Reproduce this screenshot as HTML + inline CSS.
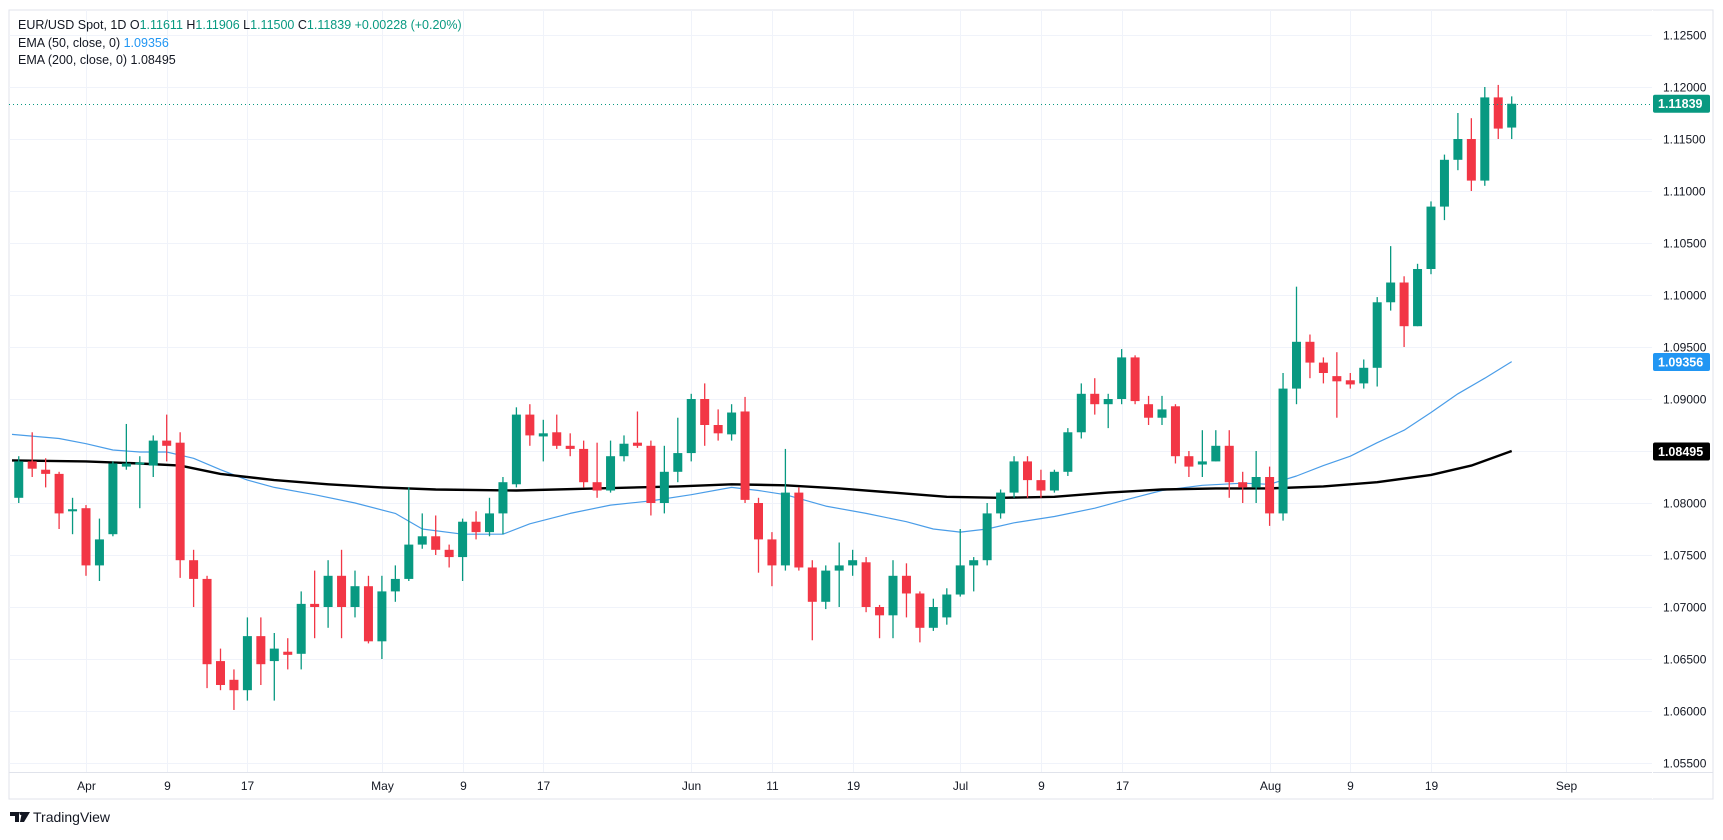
<!DOCTYPE html>
<html><head><meta charset="utf-8"><style>
html,body{margin:0;padding:0;background:#fff;}
body{width:1723px;height:835px;overflow:hidden;font-family:"Liberation Sans",sans-serif;}
</style></head><body>
<svg id="s" width="1723" height="835" xmlns="http://www.w3.org/2000/svg" font-family="Liberation Sans, sans-serif"></svg>
<script>
const S=document.getElementById('s');
const NS='http://www.w3.org/2000/svg';
function el(t,a,txt){const e=document.createElementNS(NS,t);for(const k in a)e.setAttribute(k,a[k]);if(txt!==undefined)e.textContent=txt;S.appendChild(e);return e;}
const Y=p=>35+(1.125-p)*10400;
const X=i=>86+13.45*i;
// frame
el('rect',{x:9,y:10,width:1704,height:789,fill:'#fff',stroke:'#e0e3eb','stroke-width':1});
// horizontal grid
for(let k=0;k<=14;k++){const p=1.125-k*0.005;const y=Math.round(Y(p))+0.5;
 el('line',{x1:9,x2:1652,y1:y,y2:y,stroke:'#f0f3fa','stroke-width':1});
 el('text',{x:1663,y:y+4,'font-size':12,fill:'#131722'},p.toFixed(5));}
// vertical grid + date labels
const dl=[[0,'Apr'],[6,'9'],[12,'17'],[22,'May'],[28,'9'],[34,'17'],[45,'Jun'],[51,'11'],[57,'19'],[65,'Jul'],[71,'9'],[77,'17'],[88,'Aug'],[94,'9'],[100,'19'],[110,'Sep']];
dl.forEach(([i,t])=>{const x=Math.round(X(i))+0.5;
 el('line',{x1:x,x2:x,y1:10,y2:772,stroke:'#f0f3fa','stroke-width':1});
 el('text',{x:x,y:790,'font-size':12,fill:'#131722','text-anchor':'middle'},t);});
el('line',{x1:9,x2:1713,y1:772.5,y2:772.5,stroke:'#e0e3eb'});
el('line',{x1:1652.5,x2:1652.5,y1:10,y2:799,stroke:'#fff'});
const D=[
[1.0805,1.0845,1.0800,1.0840],[1.0840,1.0868,1.0825,1.0833],[1.0832,1.0843,1.0815,1.0828],[1.0828,1.0830,1.0775,1.0790],[1.0792,1.0805,1.0770,1.0794],
[1.0795,1.0798,1.0730,1.0740],[1.0740,1.0785,1.0725,1.0765],[1.0770,1.0840,1.0768,1.0838],[1.0835,1.0876,1.0832,1.0838],[1.0837,1.0845,1.0795,1.0839],
[1.0836,1.0865,1.0825,1.0860],[1.0860,1.0885,1.0840,1.0855],[1.0858,1.0868,1.0728,1.0745],[1.0745,1.0755,1.0700,1.0727],[1.0727,1.0730,1.0622,1.0645],
[1.0648,1.0660,1.0620,1.0625],[1.0630,1.0640,1.0601,1.0620],[1.0620,1.0690,1.0610,1.0672],[1.0672,1.0690,1.0625,1.0645],[1.0648,1.0675,1.0610,1.0660],
[1.0657,1.0670,1.0640,1.0654],[1.0655,1.0715,1.0640,1.0703],[1.0703,1.0735,1.0670,1.0700],[1.0700,1.0745,1.0680,1.0730],[1.0730,1.0755,1.0670,1.0700],
[1.0700,1.0735,1.0690,1.0720],[1.0720,1.0730,1.0665,1.0667],[1.0667,1.0730,1.0650,1.0715],[1.0715,1.0740,1.0705,1.0727],[1.0727,1.0815,1.0725,1.0760],
[1.0760,1.0790,1.0756,1.0768],[1.0768,1.0788,1.0750,1.0755],[1.0755,1.0760,1.0738,1.0748],[1.0748,1.0785,1.0725,1.0782],[1.0782,1.0792,1.0765,1.0772],
[1.0772,1.0805,1.0768,1.0790],[1.0790,1.0825,1.0770,1.0820],[1.0818,1.0892,1.0815,1.0885],[1.0885,1.0895,1.0855,1.0865],[1.0864,1.0880,1.0840,1.0867],
[1.0868,1.0885,1.0852,1.0855],[1.0855,1.0867,1.0845,1.0852],[1.0852,1.0860,1.0815,1.0820],[1.0820,1.0858,1.0805,1.0812],[1.0812,1.0860,1.0810,1.0845],
[1.0845,1.0865,1.0840,1.0857],[1.0858,1.0888,1.0853,1.0855],[1.0855,1.0860,1.0788,1.0800],[1.0800,1.0855,1.0790,1.0830],[1.0830,1.0882,1.0820,1.0848],
[1.0848,1.0905,1.0840,1.0900],[1.0900,1.0915,1.0855,1.0875],[1.0875,1.0890,1.0860,1.0867],[1.0866,1.0895,1.0860,1.0887],[1.0888,1.0902,1.0800,1.0803],
[1.0800,1.0805,1.0733,1.0765],[1.0765,1.0772,1.0720,1.0740],[1.0740,1.0852,1.0735,1.0810],[1.0810,1.0815,1.0735,1.0738],[1.0738,1.0745,1.0668,1.0705],
[1.0705,1.0740,1.0698,1.0735],[1.0735,1.0762,1.0700,1.0740],[1.0740,1.0755,1.0730,1.0745],[1.0743,1.0748,1.0695,1.0700],[1.0700,1.0702,1.0670,1.0692],
[1.0692,1.0745,1.0670,1.0730],[1.0730,1.0742,1.0690,1.0713],[1.0713,1.0715,1.0666,1.0680],[1.0680,1.0708,1.0677,1.0700],[1.0690,1.0718,1.0683,1.0712],
[1.0712,1.0775,1.0710,1.0740],[1.0740,1.0748,1.0715,1.0745],[1.0745,1.0800,1.0740,1.0790],[1.0790,1.0813,1.0785,1.0810],[1.0810,1.0845,1.0805,1.0840],
[1.0840,1.0845,1.0805,1.0822],[1.0822,1.0832,1.0805,1.0812],[1.0812,1.0832,1.0810,1.0830],[1.0830,1.0872,1.0826,1.0868],[1.0868,1.0915,1.0862,1.0905],
[1.0905,1.0920,1.0885,1.0895],[1.0895,1.0905,1.0872,1.0900],[1.0900,1.0948,1.0895,1.0940],[1.0940,1.0942,1.0895,1.0898],[1.0895,1.0903,1.0875,1.0882],
[1.0882,1.0903,1.0875,1.0890],[1.0893,1.0895,1.0838,1.0845],[1.0845,1.0850,1.0825,1.0835],[1.0837,1.0870,1.0825,1.0840],[1.0840,1.0870,1.0840,1.0855],
[1.0855,1.0870,1.0805,1.0820],[1.0820,1.0830,1.0800,1.0815],[1.0815,1.0850,1.0800,1.0825],[1.0825,1.0835,1.0778,1.0790],[1.0790,1.0925,1.0783,1.0910],
[1.0910,1.1008,1.0895,1.0955],[1.0955,1.0962,1.0920,1.0935],[1.0935,1.0940,1.0915,1.0925],[1.0922,1.0945,1.0882,1.0917],[1.0918,1.0925,1.0910,1.0914],
[1.0915,1.0938,1.0910,1.0930],[1.0930,1.0998,1.0912,1.0993],[1.0993,1.1047,1.0985,1.1012],[1.1012,1.1018,1.0950,1.0970],[1.0970,1.1030,1.0970,1.1025],
[1.1025,1.1090,1.1020,1.1085],[1.1085,1.1135,1.1072,1.1130],[1.1130,1.1175,1.1120,1.1150],[1.1150,1.1170,1.1100,1.1110],[1.1110,1.1200,1.1105,1.1190],
[1.1190,1.1202,1.1150,1.1160],[1.1161,1.1191,1.1150,1.11839]];
// EMAs
function line(pts,col,w){let d='';for(let i=0;i<pts.length;i++){d+=(i?'L':'M')+X(pts[i][0]).toFixed(1)+' '+Y(pts[i][1]).toFixed(1);}el('path',{d:d,fill:'none',stroke:col,'stroke-width':w,'stroke-linejoin':'round'});}
line([[-5.5,1.0866],[-2,1.0862],[0,1.0857],[2,1.0851],[4,1.0849],[6,1.0849],[8,1.0843],[10,1.0832],[12,1.0822],[14,1.0815],[17,1.0808],[20,1.0800],[23,1.0790],[25,1.0775],[28,1.0770],[31,1.0770],[33,1.0780],[36,1.0790],[39,1.0798],[42,1.0802],[45,1.0808],[48,1.0815],[50,1.0812],[52,1.0808],[55,1.0797],[58,1.0790],[61,1.0782],[63,1.0775],[65,1.0772],[67,1.0775],[69,1.0781],[72,1.0787],[75,1.0795],[77,1.0802],[80,1.0812],[83,1.0817],[86,1.0819],[88,1.0818],[90,1.0826],[92,1.0836],[94,1.0845],[96,1.0858],[98,1.0870],[100,1.0887],[102,1.0905],[104,1.0920],[106,1.0936]],'#4a9de8',1.2);
line([[-5.5,1.0841],[0,1.0840],[4,1.0838],[7,1.0836],[10,1.0828],[14,1.0822],[18,1.0818],[22,1.0815],[26,1.0813],[32,1.0812],[38,1.0814],[44,1.0816],[48,1.0818],[52,1.0817],[56,1.0814],[60,1.0810],[64,1.0806],[68,1.0805],[72,1.0806],[76,1.0810],[80,1.0813],[84,1.0814],[88,1.0814],[92,1.0816],[96,1.0820],[100,1.0827],[103,1.0836],[106,1.0850]],'#000',2.4);
// candles
D.forEach((c,k)=>{const i=k-5;const [o,h,l,cl]=c;const col=cl>=o?'#089981':'#f23645';const x=X(i);
 el('line',{x1:x,x2:x,y1:Y(h),y2:Y(l),stroke:col,'stroke-width':1.3});
 const t=Y(Math.max(o,cl)),b=Y(Math.min(o,cl));
 el('rect',{x:x-4.5,y:t,width:9,height:Math.max(1.5,b-t),fill:col});});
// last price line
const ly=Math.round(Y(1.11839))+0.5;
el('line',{x1:9,x2:1652,y1:ly,y2:ly,stroke:'#089981','stroke-width':1,'stroke-dasharray':'1,3'});
function badge(p,col,txt){const y=Y(p);el('rect',{x:1653,y:y-9,width:57,height:18,fill:col,rx:2});el('text',{x:1658,y:y+4.5,'font-size':12.5,'font-weight':'bold',fill:'#fff'},txt);}
badge(1.11839,'#089981','1.11839');
badge(1.09356,'#2196f3','1.09356');
badge(1.08495,'#000','1.08495');
// header
const h1=el('text',{x:18,y:29,'font-size':12.5,fill:'#131722'});
function ts(p,t,c){const e=document.createElementNS(NS,'tspan');e.textContent=t;if(c)e.setAttribute('fill',c);p.appendChild(e);}
ts(h1,'EUR/USD Spot, 1D  O');ts(h1,'1.11611','#089981');ts(h1,'  H');ts(h1,'1.11906','#089981');ts(h1,'  L');ts(h1,'1.11500','#089981');ts(h1,'  C');ts(h1,'1.11839','#089981');ts(h1,' +0.00228 (+0.20%)','#089981');
const h2=el('text',{x:18,y:47,'font-size':12.5,fill:'#131722'});ts(h2,'EMA (50, close, 0)  ');ts(h2,'1.09356','#2196f3');
el('text',{x:18,y:64,'font-size':12.5,fill:'#131722'},'EMA (200, close, 0)  1.08495');
// logo
el('path',{d:'M10 812 h9 v10 h-4 v-6 h-5z M19 812 h3 l-2 3z M22 812 h8 l-6 10 h-4 z',fill:'#131722'});
el('circle',{cx:21.5,cy:813.5,r:1.6,fill:'#131722'});
el('text',{x:33,y:822,'font-size':14,fill:'#131722'},'TradingView');
</script>
</body></html>
